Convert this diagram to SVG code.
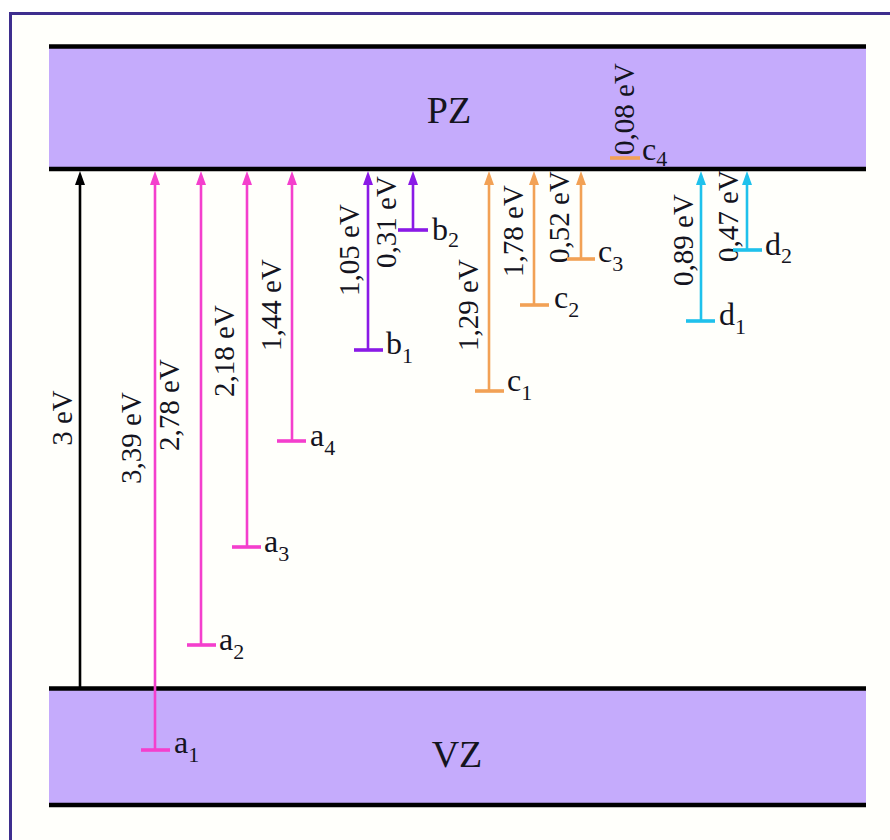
<svg xmlns="http://www.w3.org/2000/svg" width="890" height="840" viewBox="0 0 890 840">
<style>
.band{fill:#c5abfc}
.edge{stroke:#000;stroke-width:4.5}
text{font-family:'Liberation Serif','Times New Roman',Times,serif;fill:#14141e}
.big{font-size:38px}
.lab{font-size:32px}
.ev{font-size:29px}
.sub{font-size:22px}
.ln{stroke-width:2.6;fill:none}
.tick{stroke-width:3.6}
.pk{stroke:#f43fcd}
.pu{stroke:#8a1ae6}
.or{stroke:#f2a155}
.cy{stroke:#1fc1ec}
.bk{stroke:#000}
</style>
<defs>
<marker id="hk" markerUnits="userSpaceOnUse" markerWidth="14" markerHeight="10" viewBox="0 0 14 10" refX="0" refY="5" orient="auto"><path d="M0,0 L14,5 L0,10 z" fill="#000"/></marker>
<marker id="hp" markerUnits="userSpaceOnUse" markerWidth="14" markerHeight="10" viewBox="0 0 14 10" refX="0" refY="5" orient="auto"><path d="M0,0 L14,5 L0,10 z" fill="#f43fcd"/></marker>
<marker id="hu" markerUnits="userSpaceOnUse" markerWidth="14" markerHeight="10" viewBox="0 0 14 10" refX="0" refY="5" orient="auto"><path d="M0,0 L14,5 L0,10 z" fill="#8a1ae6"/></marker>
<marker id="ho" markerUnits="userSpaceOnUse" markerWidth="14" markerHeight="10" viewBox="0 0 14 10" refX="0" refY="5" orient="auto"><path d="M0,0 L14,5 L0,10 z" fill="#f2a155"/></marker>
<marker id="hc" markerUnits="userSpaceOnUse" markerWidth="14" markerHeight="10" viewBox="0 0 14 10" refX="0" refY="5" orient="auto"><path d="M0,0 L14,5 L0,10 z" fill="#1fc1ec"/></marker>
</defs>
<rect width="890" height="840" fill="#fff"/>
<rect x="10.5" y="13.5" width="900" height="850" fill="#fffffb" stroke="#3e2e8e" stroke-width="3"/>

<g id="PZ">
<rect class="band" x="49" y="46" width="817" height="123"/>
<line class="edge" x1="49" y1="46.5" x2="866" y2="46.5"/>
<line class="edge" x1="49" y1="169" x2="866" y2="169"/>
<text class="big" x="449" y="123" text-anchor="middle">PZ</text>
</g>
<g id="VZ">
<rect class="band" x="49" y="688" width="817" height="117"/>
<line class="edge" x1="49" y1="688.5" x2="866" y2="688.5"/>
<line class="edge" x1="49" y1="805" x2="866" y2="805"/>
<text class="big" x="457" y="767" text-anchor="middle">VZ</text>
</g>

<g id="connectors">
<line class="ln bk" x1="80" y1="687" x2="80" y2="185" marker-end="url(#hk)"/>
<line class="ln pk" x1="155" y1="750" x2="155" y2="185" marker-end="url(#hp)"/>
<line class="ln pk" x1="201" y1="645" x2="201" y2="185" marker-end="url(#hp)"/>
<line class="ln pk" x1="247" y1="547" x2="247" y2="185" marker-end="url(#hp)"/>
<line class="ln pk" x1="292" y1="441" x2="292" y2="185" marker-end="url(#hp)"/>
<line class="ln pu" x1="368" y1="350" x2="368" y2="185" marker-end="url(#hu)"/>
<line class="ln pu" x1="413" y1="230" x2="413" y2="185" marker-end="url(#hu)"/>
<line class="ln or" x1="489" y1="391" x2="489" y2="185" marker-end="url(#ho)"/>
<line class="ln or" x1="534" y1="305" x2="534" y2="185" marker-end="url(#ho)"/>
<line class="ln or" x1="581" y1="259" x2="581" y2="185" marker-end="url(#ho)"/>
<line class="ln cy" x1="701" y1="321" x2="701" y2="185" marker-end="url(#hc)"/>
<line class="ln cy" x1="747" y1="250" x2="747" y2="185" marker-end="url(#hc)"/>
<text class="ev" transform="translate(72,418) rotate(-90)" text-anchor="middle">3 eV</text>
<text class="ev" transform="translate(141,438) rotate(-90)" text-anchor="middle">3,39 eV</text>
<text class="ev" transform="translate(179,405) rotate(-90)" text-anchor="middle">2,78 eV</text>
<text class="ev" transform="translate(234,351) rotate(-90)" text-anchor="middle">2,18 eV</text>
<text class="ev" transform="translate(281,305) rotate(-90)" text-anchor="middle">1,44 eV</text>
<text class="ev" transform="translate(359,250) rotate(-90)" text-anchor="middle">1,05 eV</text>
<text class="ev" transform="translate(396,222) rotate(-90)" text-anchor="middle">0,31 eV</text>
<text class="ev" transform="translate(478,305) rotate(-90)" text-anchor="middle">1,29 eV</text>
<text class="ev" transform="translate(523,231) rotate(-90)" text-anchor="middle">1,78 eV</text>
<text class="ev" transform="translate(569,217) rotate(-90)" text-anchor="middle">0,52 eV</text>
<text class="ev" transform="translate(634,109) rotate(-90)" text-anchor="middle">0,08 eV</text>
<text class="ev" transform="translate(693,240) rotate(-90)" text-anchor="middle">0,89 eV</text>
<text class="ev" transform="translate(738,216) rotate(-90)" text-anchor="middle">0,47 eV</text>
</g>

<g id="a1"><line class="tick pk" x1="141" y1="750" x2="170" y2="750"/><text class="lab" x="174" y="753">a<tspan class="sub" y="762">1</tspan></text></g>
<g id="a2"><line class="tick pk" x1="187" y1="645" x2="216" y2="645"/><text class="lab" x="219" y="650">a<tspan class="sub" y="659">2</tspan></text></g>
<g id="a3"><line class="tick pk" x1="232" y1="547" x2="261" y2="547"/><text class="lab" x="264" y="552">a<tspan class="sub" y="561">3</tspan></text></g>
<g id="a4"><line class="tick pk" x1="277" y1="441" x2="306" y2="441"/><text class="lab" x="310" y="446">a<tspan class="sub" y="455">4</tspan></text></g>
<g id="b1"><line class="tick pu" x1="354" y1="350" x2="383" y2="350"/><text class="lab" x="386" y="354">b<tspan class="sub" y="363">1</tspan></text></g>
<g id="b2"><line class="tick pu" x1="398" y1="230" x2="428" y2="230"/><text class="lab" x="432" y="240">b<tspan class="sub" y="247">2</tspan></text></g>
<g id="c1"><line class="tick or" x1="475" y1="391" x2="504" y2="391"/><text class="lab" x="507" y="391">c<tspan class="sub" y="400">1</tspan></text></g>
<g id="c2"><line class="tick or" x1="520" y1="305" x2="549" y2="305"/><text class="lab" x="554" y="308">c<tspan class="sub" y="317">2</tspan></text></g>
<g id="c3"><line class="tick or" x1="567" y1="259" x2="595" y2="259"/><text class="lab" x="598" y="262">c<tspan class="sub" y="271">3</tspan></text></g>
<g id="c4"><line class="tick or" x1="610" y1="158" x2="640" y2="158"/><text class="lab" x="642" y="160">c<tspan class="sub" y="166">4</tspan></text></g>
<g id="d1"><line class="tick cy" x1="686" y1="321" x2="715" y2="321"/><text class="lab" x="719" y="325">d<tspan class="sub" y="334">1</tspan></text></g>
<g id="d2"><line class="tick cy" x1="733" y1="250" x2="762" y2="250"/><text class="lab" x="765" y="255">d<tspan class="sub" y="263">2</tspan></text></g>
</svg>
